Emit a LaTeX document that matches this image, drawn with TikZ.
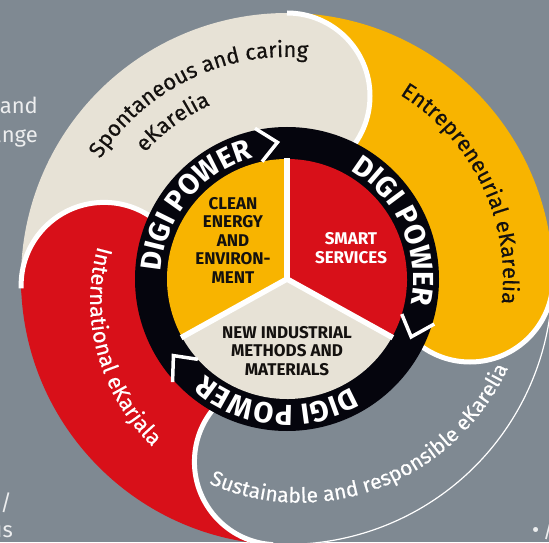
\documentclass[tikz,border=0pt]{standalone}
\usepackage{fontspec}
\setmainfont{Fira Sans}
\newfontfamily\lobeface[FakeBold=0.4]{Fira Sans}
\usepackage{tikz}
\usetikzlibrary{decorations.text}

\definecolor{bggray}{HTML}{7F8992}
\definecolor{ekbeige}{HTML}{E7E2D6}
\definecolor{ekyellow}{HTML}{F8B400}
\definecolor{ekred}{HTML}{D81019}
\definecolor{ekblack}{HTML}{05050D}
\definecolor{ektext}{HTML}{14110F}
\definecolor{sidegray}{HTML}{EDEEEF}

\newcommand{\lobefont}{\lobeface\fontsize{22}{22}\selectfont}
\newcommand{\digifont}{\fontsize{29}{29}\selectfont\bfseries\color{white}}

\tikzstyle{arctext} = [decorate, decoration={text along path, text align=center}]
\tikzstyle{sector} = [align=center, inner sep=0pt, font=\fontsize{17}{18.5}\selectfont\bfseries]
\tikzstyle{side} = [inner sep=0pt, text=sidegray, font=\fontsize{22}{22}\selectfont]
\tikzstyle{capline} = [draw=white, line width=5pt]
\tikzstyle{chevron} = [draw=white, line width=3.5pt, line join=miter]

% band of a lobe, from its tail to its head
\newcommand{\lobeband}[3]{%
    \fill[#1] (#2:266) arc[start angle=#2, end angle=#3, radius=266]
        -- (#3:100) arc[start angle=#3, end angle=#2, radius=100] -- cycle;}
% round head of a lobe
\newcommand{\lobehead}[2]{%
    \fill[#1] (#2+1:266) arc[start angle=#2+1, end angle=#2, radius=266]
        arc[start angle=#2, end angle=#2-180, radius=83]
        arc[start angle=#2, end angle=#2+1, radius=100] -- cycle;
    \draw[capline] (#2:266) arc[start angle=#2, end angle=#2-180, radius=83];}

\begin{document}
\begin{tikzpicture}[x=1pt,y=1pt]
    \useasboundingbox (0,0) rectangle (549,542);
    \fill[bggray] (0,0) rectangle (549,542);
    % Page text cut by the frame
    \node[side, anchor=base east] (and) at (38,428) {and};
    \node[side, anchor=base east] (ange) at (38,399) {ange};
    \node[side, anchor=base east] (slash) at (12,32) {/};
    \node[side, anchor=base east] (us) at (13,5) {us};
    \node[side, anchor=base west] (bullet) at (532,5) {\textbullet\,/};
    \begin{scope}[shift={(287,263)}]
    % Outer lobes
    \lobeband{ekbeige}{182}{90}
    \lobeband{ekyellow}{90}{0}
    \lobeband{bggray}{0}{-93}
    \lobeband{ekred}{-93}{-178}
    \draw[white, line width=1.2pt] (0:265.4) arc[start angle=0, end angle=-93, radius=265.4];
    \lobehead{ekbeige}{90}
    \lobehead{ekyellow}{0}
    \lobehead{bggray}{-93}
    \lobehead{ekred}{-178}
    % Ring and centre
    \fill[ekblack] (0,0) circle (152);
    \fill[ekyellow] (0,0) -- (90:120) arc[start angle=90, end angle=209, radius=120] -- cycle;
    \fill[ekred] (0,0) -- (-29:120) arc[start angle=-29, end angle=90, radius=120] -- cycle;
    \fill[ekbeige] (0,0) -- (209:120) arc[start angle=209, end angle=331, radius=120] -- cycle;
    \foreach \a in {90,-29,209}
        \draw[white, line width=5.5pt] (0,0) -- (\a:121);
    \foreach \a in {101,-18,-139}
        \draw[chevron] (\a+1:154) -- (\a-7:137) -- (\a+1:120);
    \foreach \a in {141,24,-95}
        \path[arctext, decoration={text={|\digifont|DIGI POWER}}]
            (\a+45:126) arc[start angle=\a+45, end angle=\a-45, radius=126];
    % Lobe texts
    \path[arctext, decoration={text={|\lobefont\color{ektext}|Spontaneous and caring}}]
        (161:222) arc[start angle=161, end angle=71, radius=222];
    \path[arctext, decoration={text={|\lobefont\color{ektext}|eKarelia}}]
        (146:190) arc[start angle=146, end angle=106, radius=190];
    \path[arctext, decoration={text={|\lobefont\color{ektext}|Entrepreneurial eKarelia}}]
        (71:216) arc[start angle=71, end angle=-19, radius=216];
    \path[arctext, decoration={text={|\lobefont\color{white}|International eKarjala}}]
        plot[domain=158:242, samples=40] (\x:{190+0.38*(\x-165)});
    \path[arctext, decoration={text={|\lobeface\fontsize{21}{21}\selectfont\color{white}|Sustainable and responsible eKarelia}}]
        plot[domain=-124:-10, samples=50] (\x:{219+0.22*(\x+110)});
    % Place nodes
    \node[sector, text=ektext] (clean) at (-54,39) {CLEAN\\ENERGY\\AND\\ENVIRON-\\MENT};
    \node[sector, text=white] (smart) at (64,31) {SMART\\SERVICES};
    \node[sector, text=ektext] (industrial) at (0,-72) {NEW INDUSTRIAL\\METHODS AND\\MATERIALS};
    \end{scope}
\end{tikzpicture}
\end{document}
